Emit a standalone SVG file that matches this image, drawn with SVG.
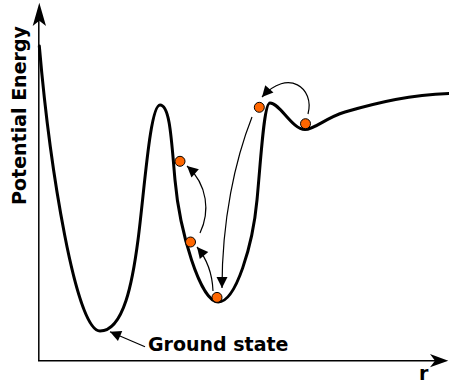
<svg xmlns="http://www.w3.org/2000/svg" width="449" height="382" viewBox="0 0 449 382">
<style>
.lbl{font-family:"DejaVu Sans","Liberation Sans",sans-serif;font-weight:bold;font-size:19px;fill:#000}
.axis{fill:none;stroke:#000;stroke-width:1.5}
.curve{fill:none;stroke:#000;stroke-width:3;stroke-linecap:round;stroke-linejoin:round}
.arr{fill:none;stroke:#000;stroke-width:1.2;marker-end:url(#ah)}
.ball{fill:#ff6600;stroke:#000;stroke-width:1}
</style>
<defs>
<marker id="ah" markerUnits="userSpaceOnUse" markerWidth="14" markerHeight="14" viewBox="-1 -7 14 14" refX="11" refY="0" orient="auto">
<path d="M0,-5.5 L11,0 L0,5.5 z" fill="#000"/>
</marker>
</defs>
<g id="axes">
<path class="axis" d="M38.8,361 V18"/>
<path d="M39.3,2.7 L46,26 L39.3,20.7 L32.7,26 z" fill="#000"/>
<path class="axis" d="M38,360.7 H438"/>
<path d="M448.3,360.7 L430,354 L435,360.7 L430,367.3 z" fill="#000"/>
</g>
<g id="curve">
<path class="curve" d="M39.3,46 C50,170 76,331 100,331 C124,331 132.8,280 138,240 C144.5,190 150,105 160,105 C170,105 171.4,140 175,180 C179.5,230 200,302 218.3,302 C236,302 252.8,245 257,200 C261.2,155 264,103 270,103 C280,103 292,129.5 305,129.5 C315,129.5 325,118 345,112 C380,102 410,95 449,93.5"/>
</g>
<g id="connectors">
<path class="arr" d="M213,291 Q212,265 197,247"/>
<path class="arr" d="M200,233 C210,212 208,185 187,166"/>
<path class="arr" d="M252,117 C235,160 222,220 222,288"/>
<path class="arr" d="M308,114 C315,88 288,68 262,97"/>
<path class="arr" d="M145,346.7 L110,331.7"/>
</g>
<g id="ball1"><circle class="ball" cx="180" cy="161.3" r="5"/></g>
<g id="ball2"><circle class="ball" cx="190.5" cy="242" r="5"/></g>
<g id="ball3"><circle class="ball" cx="217" cy="297.4" r="5"/></g>
<g id="ball4"><circle class="ball" cx="259.3" cy="107.3" r="5"/></g>
<g id="ball5"><circle class="ball" cx="305.5" cy="123.7" r="5"/></g>
<g id="labels">
<text class="lbl" x="148" y="351">Ground state</text>
<text class="lbl" x="419" y="379.5">r</text>
<text class="lbl" text-anchor="middle" transform="translate(25.5,115.5) rotate(-90)">Potential Energy</text>
</g>
</svg>
